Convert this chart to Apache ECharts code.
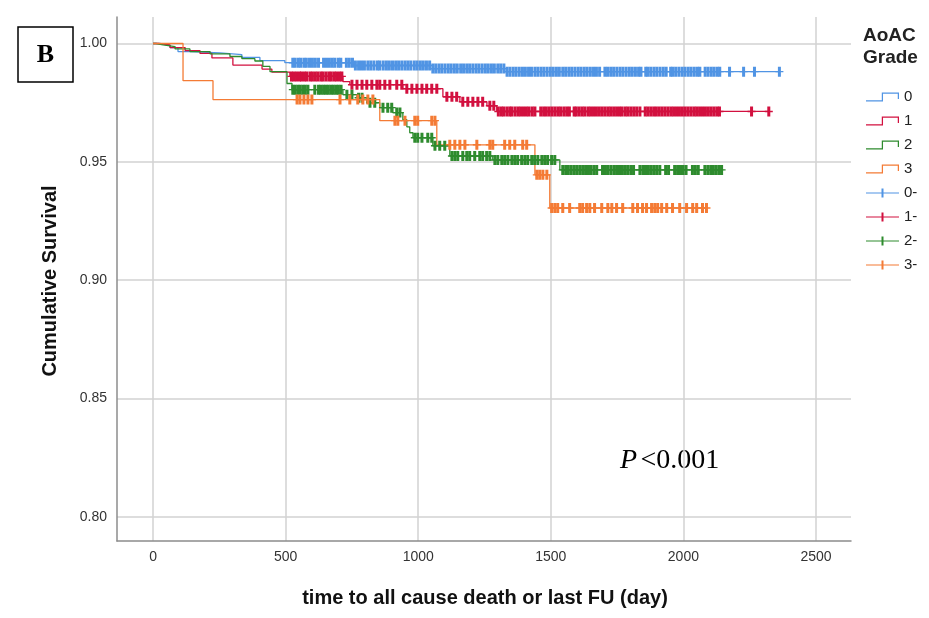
<!DOCTYPE html>
<html><head><meta charset="utf-8">
<script src="https://cdn.jsdelivr.net/npm/echarts@6/dist/echarts.min.js"></script>
<style>html,body{margin:0;padding:0;background:#fff}#c{width:929px;height:618px}</style>
</head><body><div id="c"></div>
<script>
// ---------- data ----------
const grades = ['0', '1', '2', '3'];
const censorNames = ['0-', '1-', '2-', '3-'];
const colors = ['#5094E4', '#D2103F', '#2E8B2E', '#F47B35'];
const xTicks = [0, 500, 1000, 1500, 2000, 2500];
const yTicks = [0.80, 0.85, 0.90, 0.95, 1.00];

// Kaplan-Meier steps: [time (day), survival after the event]
const km0 = [[0,1.0],[26,0.9992],[64,0.9983],[94,0.9966],[139,0.996],[252,0.9953],[335,0.9941],[403,0.9928],[497,0.9919],[754,0.9907],[1044,0.9894],[1326,0.9881],[2362,0.9881]];
const km1 = [[0,1.0],[19,0.9994],[64,0.9983],[121,0.997],[177,0.9958],[222,0.9939],[301,0.9909],[411,0.9892],[448,0.9879],[516,0.9861],[716,0.9839],[742,0.9826],[942,0.9809],[1093,0.9775],[1157,0.9754],[1259,0.9737],[1296,0.9713],[2325,0.9713]];
const km2 = [[0,1.0],[11,0.9994],[38,0.9987],[83,0.9977],[139,0.9966],[215,0.9956],[290,0.9945],[335,0.9936],[384,0.9926],[414,0.9903],[441,0.9881],[505,0.9831],[524,0.9805],[716,0.9784],[769,0.9771],[806,0.975],[855,0.9729],[904,0.9708],[942,0.9678],[957,0.9648],[968,0.9623],[980,0.9602],[1055,0.9568],[1119,0.9525],[1281,0.9508],[1534,0.9466],[2144,0.9466]];
const km3 = [[0,1.0],[113,0.9843],[226,0.9763],[855,0.9674],[1070,0.9572],[1440,0.9445],[1496,0.9305],[2091,0.9305]];

// censored times (day)
const cens0 = [527,536,548,557,569,578,590,601,612,624,643,654,665,676,686,699,708,729,740,752,763,775,786,797,810,821,833,846,855,868,880,891,903,915,926,938,950,961,972,985,996,1008,1019,1031,1043,1055,1066,1078,1089,1101,1113,1124,1136,1147,1160,1171,1183,1194,1206,1218,1229,1241,1253,1264,1276,1287,1300,1311,1323,1335,1346,1358,1369,1381,1393,1404,1416,1427,1440,1451,1463,1474,1486,1498,1509,1521,1532,1545,1556,1568,1579,1591,1603,1614,1626,1637,1649,1661,1672,1684,1704,1714,1726,1737,1749,1761,1772,1784,1796,1807,1819,1831,1840,1858,1866,1877,1889,1900,1912,1924,1935,1952,1960,1971,1983,1995,2006,2018,2029,2041,2053,2062,2082,2093,2105,2116,2128,2137,2174,2227,2268,2362];
const cens1 = [522,531,541,552,560,571,580,592,601,612,622,633,641,652,663,672,683,692,703,712,750,769,788,806,825,844,855,874,893,919,938,957,976,995,1014,1032,1051,1070,1108,1127,1145,1168,1187,1206,1225,1243,1270,1285,1302,1313,1322,1334,1345,1353,1365,1376,1386,1397,1408,1418,1430,1440,1462,1473,1483,1494,1505,1516,1527,1537,1549,1560,1570,1588,1596,1607,1618,1628,1640,1650,1661,1672,1683,1694,1705,1716,1726,1737,1748,1759,1769,1781,1791,1802,1813,1824,1836,1856,1866,1877,1888,1898,1909,1920,1931,1942,1953,1963,1974,1985,1996,2007,2018,2029,2040,2050,2061,2072,2083,2094,2105,2116,2127,2136,2257,2322];
const cens2 = [527,536,546,555,565,574,584,610,624,633,643,652,661,671,680,690,699,709,731,750,775,788,818,836,867,885,900,919,931,987,998,1014,1036,1051,1063,1081,1100,1127,1138,1149,1168,1183,1194,1213,1232,1243,1258,1270,1289,1300,1315,1326,1338,1353,1364,1375,1390,1402,1413,1428,1439,1451,1466,1477,1488,1503,1515,1545,1556,1566,1577,1588,1598,1609,1620,1631,1642,1652,1663,1673,1695,1706,1716,1727,1738,1748,1759,1770,1781,1791,1802,1812,1836,1847,1857,1868,1879,1890,1900,1911,1933,1944,1967,1978,1989,1999,2010,2034,2045,2056,2081,2092,2103,2113,2124,2135,2144];
const cens3 = [543,554,569,584,599,705,742,772,791,810,829,912,923,950,987,998,1051,1063,1119,1138,1157,1176,1221,1270,1281,1326,1345,1364,1394,1409,1447,1458,1470,1485,1503,1515,1526,1545,1571,1609,1620,1635,1647,1665,1692,1715,1730,1748,1771,1809,1827,1846,1861,1880,1892,1903,1918,1937,1959,1986,2012,2035,2050,2072,2087];

// ---------- build ----------
const kms = [km0, km1, km2, km3];
const cens = [cens0, cens1, cens2, cens3];
function survAt(km, t) {
  let s = km[0][1];
  for (const p of km) { if (p[0] <= t) s = p[1]; else break; }
  return s;
}
const plusSymbol = 'path://M0,4.3H2.5V0H5.5V4.3H8V5.7H5.5V10H2.5V5.7H0Z';
const stepIcon = 'path://M0,8.7H15.3V1H32V7.5H30.8V2.2H16.5V9.9H0Z';
const plusIcon = 'path://M0,4.4H15.5V0.5H17.5V4.4H33V5.6H17.5V9.5H15.5V5.6H0Z';
const FONT = "'Liberation Sans', Arial, sans-serif";

const series = [];
grades.forEach((g, i) => {
  series.push({
    name: g, type: 'line', step: 'end', data: kms[i], showSymbol: false, symbol: 'none',
    lineStyle: { color: colors[i], width: 1.3 }, itemStyle: { color: colors[i] },
    z: 2, silent: true
  });
});
censorNames.forEach((n, i) => {
  series.push({
    name: n, type: 'scatter', data: cens[i].map(t => [t, survAt(kms[i], t)]),
    symbol: plusSymbol, symbolSize: [8, 10], itemStyle: { color: colors[i], opacity: 1 },
    z: 3, silent: true
  });
});

const legendData = grades.map((g, i) => ({ name: g, icon: stepIcon, itemStyle: { color: colors[i], borderWidth: 0 } }))
  .concat(censorNames.map((n, i) => ({ name: n, icon: plusIcon, itemStyle: { color: colors[i], borderWidth: 0 } })));

const option = {
  animation: false,
  backgroundColor: '#fff',
  grid: { left: 117, right: 78, top: 17, bottom: 77, containLabel: false },
  xAxis: {
    type: 'value', min: -136, max: 2632,
    axisLine: { show: true, onZero: false, lineStyle: { color: '#8c8c8c', width: 1.5 } },
    axisTick: { show: false, customValues: xTicks },
    axisLabel: { customValues: xTicks, fontSize: 14, color: '#333', margin: 9, fontFamily: FONT,
      formatter: v => String(v) },
    splitLine: { show: true, lineStyle: { color: '#d2d2d2', width: 1.5 } }
  },
  yAxis: {
    type: 'value', min: 0.7898, max: 1.0112,
    axisLine: { show: true, onZero: false, lineStyle: { color: '#8c8c8c', width: 1.5 } },
    axisTick: { show: false, customValues: yTicks },
    axisLabel: { customValues: yTicks, fontSize: 14, color: '#333', margin: 10, fontFamily: FONT,
      formatter: v => v.toFixed(2) },
    splitLine: { show: true, lineStyle: { color: '#d2d2d2', width: 1.5 } }
  },
  legend: {
    orient: 'vertical', left: 866, top: 89, padding: 0,
    itemWidth: 33, itemHeight: 10, itemGap: 8, selectedMode: false,
    textStyle: { fontSize: 15, color: '#222', fontFamily: FONT, lineHeight: 16 },
    data: legendData
  },
  graphic: [
    { type: 'rect', shape: { x: 18, y: 27, width: 55, height: 55 }, style: { fill: '#fff', stroke: '#000', lineWidth: 1.5 } },
    { type: 'text', x: 45.5, y: 55, style: { text: 'B', font: "bold 26px 'Liberation Serif', serif", fill: '#000', align: 'center', verticalAlign: 'middle' } },
    { type: 'text', x: 863, y: 36, style: { text: 'AoAC', font: "bold 19px " + FONT, fill: '#222', align: 'left', verticalAlign: 'middle' } },
    { type: 'text', x: 863, y: 58, style: { text: 'Grade', font: "bold 19px " + FONT, fill: '#222', align: 'left', verticalAlign: 'middle' } },
    { type: 'text', x: 50, y: 281, rotation: Math.PI / 2, style: { text: 'Cumulative Survival', font: "bold 20px " + FONT, fill: '#111', align: 'center', verticalAlign: 'middle' } },
    { type: 'text', x: 485, y: 598, style: { text: 'time to all cause death or last FU (day)', font: "bold 20px " + FONT, fill: '#111', align: 'center', verticalAlign: 'middle' } },
    { type: 'text', x: 620, y: 461, style: { text: '{i|P} {n|<0.001}', verticalAlign: 'middle', align: 'left',
      rich: { i: { font: "italic 28px 'Liberation Serif', serif", fill: '#000' }, n: { font: "28px 'Liberation Serif', serif", fill: '#000' } } } }
  ],
  series: series
};
const chart = echarts.init(document.getElementById('c'), null, { renderer: 'canvas' });
chart.setOption(option);
</script>
</body></html>
